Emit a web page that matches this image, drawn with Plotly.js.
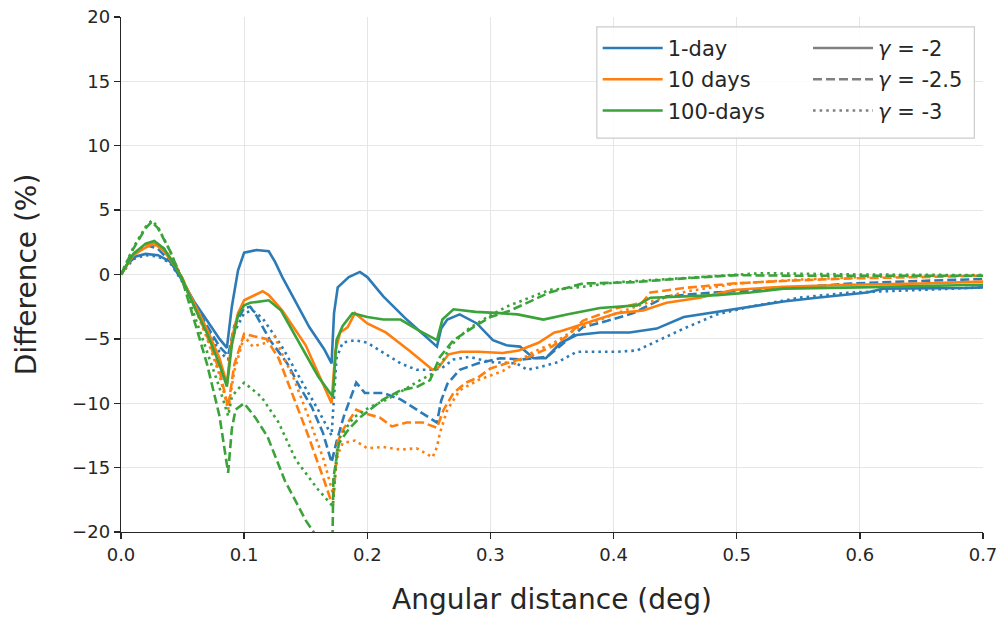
<!DOCTYPE html>
<html>
<head>
<meta charset="utf-8">
<script src="https://cdn.plot.ly/plotly-3.0.1.min.js"></script>
<style>html,body{margin:0;padding:0;background:#fff;}#chart{width:1003px;height:619px;}</style>
</head>
<body>
<div id="chart"></div>
<script>
// ---- data ----
const seriesNames = ["1-day", "10 days", "100-days"];
const gammaLabels = ["<i>γ</i> = -2", "<i>γ</i> = -2.5", "<i>γ</i> = -3"];

// 1-day
const x_1day_g2 = [0,0.005,0.012,0.02,0.03,0.04,0.05,0.06,0.07,0.08,0.086,0.09,0.095,0.1,0.11,0.12,0.125,0.131,0.14,0.153,0.165,0.171,0.173,0.176,0.185,0.194,0.2,0.213,0.232,0.245,0.2566,0.26,0.265,0.275,0.289,0.302,0.313,0.324,0.335,0.345,0.357,0.37,0.389,0.413,0.435,0.457,0.484,0.511,0.538,0.565,0.606,0.619,0.65,0.686,0.7];
const y_1day_g2 = [0,0.8,1.4,1.6,1.5,1.0,-0.5,-2.2,-3.6,-5.0,-5.7,-2.5,0.3,1.7,1.9,1.8,1.0,-0.2,-1.8,-4.1,-5.8,-6.9,-3.0,-1.0,-0.2,0.2,-0.2,-1.7,-3.5,-4.6,-5.6,-4.2,-3.5,-3.1,-3.8,-5.1,-5.5,-5.6,-6.5,-6.5,-5.3,-4.7,-4.5,-4.5,-4.2,-3.3,-2.9,-2.5,-2.1,-1.8,-1.4,-1.1,-1.1,-1.05,-1.0];

const x_1day_g25 = [0,0.01,0.02,0.03,0.04,0.05,0.06,0.07,0.08,0.087,0.092,0.1,0.105,0.11,0.121,0.135,0.145,0.155,0.164,0.171,0.175,0.181,0.191,0.198,0.213,0.227,0.24,0.2566,0.26,0.265,0.275,0.29,0.308,0.325,0.346,0.357,0.375,0.395,0.416,0.443,0.48,0.52,0.55,0.592,0.65,0.7];
const y_1day_g25 = [0,1.5,2.3,2.0,1.0,-0.5,-2.4,-4.0,-5.6,-6.3,-4.0,-2.6,-2.5,-3.2,-5.1,-6.9,-8.7,-10.3,-12.3,-14.6,-13.0,-11.0,-8.4,-9.2,-9.2,-9.7,-10.5,-11.5,-9.8,-8.5,-7.4,-6.9,-6.5,-6.6,-6.4,-5.5,-4.1,-3.6,-3.0,-1.7,-1.4,-1.2,-1.0,-0.7,-0.5,-0.35];

const x_1day_g3 = [0,0.01,0.02,0.03,0.04,0.05,0.06,0.07,0.08,0.087,0.092,0.1,0.107,0.115,0.13,0.145,0.16,0.171,0.175,0.18,0.19,0.2,0.227,0.24,0.253,0.26,0.27,0.283,0.3,0.321,0.33,0.34,0.355,0.37,0.403,0.419,0.435,0.457,0.484,0.511,0.551,0.592,0.65,0.7];
const y_1day_g3 = [0,1.2,1.5,1.4,0.9,-0.6,-2.5,-4.2,-6.0,-6.6,-4.5,-3.0,-2.8,-3.4,-5.5,-8.0,-10.5,-12.5,-6.5,-5.3,-5.1,-5.3,-6.9,-7.4,-7.4,-7.3,-6.6,-6.4,-6.8,-6.9,-7.4,-7.2,-6.8,-6.0,-6.0,-5.9,-5.2,-4.2,-3.1,-2.5,-1.8,-1.4,-1.2,-1.0];

// 10 days
const x_10day_g2 = [0,0.01,0.02,0.027,0.035,0.045,0.05,0.06,0.07,0.08,0.086,0.09,0.095,0.1,0.11,0.115,0.12,0.131,0.15,0.165,0.171,0.174,0.178,0.184,0.19,0.2,0.215,0.234,0.253,0.258,0.266,0.276,0.29,0.31,0.323,0.339,0.352,0.357,0.376,0.403,0.424,0.443,0.47,0.497,0.538,0.592,0.65,0.7];
const y_10day_g2 = [0,1.5,2.1,2.4,1.8,0.5,-0.4,-2.4,-4.3,-6.5,-8.5,-5.0,-3.0,-2.0,-1.5,-1.3,-1.6,-2.8,-5.5,-8.8,-10.0,-6.0,-4.5,-4.1,-3.0,-3.8,-4.5,-5.9,-7.4,-7.2,-6.2,-6.0,-6.0,-6.1,-5.9,-5.3,-4.5,-4.4,-3.8,-3.0,-2.8,-2.2,-1.8,-1.2,-0.95,-0.8,-0.7,-0.55];

const x_10day_g25 = [0,0.01,0.02,0.027,0.035,0.045,0.05,0.06,0.07,0.08,0.087,0.092,0.1,0.108,0.118,0.128,0.14,0.152,0.165,0.172,0.176,0.18,0.191,0.198,0.21,0.22,0.232,0.245,0.2566,0.262,0.27,0.28,0.29,0.3,0.313,0.331,0.35,0.362,0.375,0.403,0.423,0.43,0.457,0.497,0.538,0.592,0.65,0.7];
const y_10day_g25 = [0,1.6,2.3,2.5,2.0,0.6,-0.3,-2.6,-4.8,-7.5,-10.3,-7.0,-4.6,-4.8,-5.0,-6.5,-9.5,-12.5,-16.0,-18.0,-13.0,-12.1,-10.5,-10.8,-11.1,-11.8,-11.5,-11.5,-11.9,-10.5,-9.2,-8.4,-8.0,-7.3,-6.9,-6.4,-5.6,-4.8,-3.6,-2.6,-2.2,-1.4,-1.05,-0.7,-0.5,-0.3,-0.2,-0.1];

const x_10day_g3 = [0,0.01,0.02,0.027,0.035,0.045,0.05,0.06,0.07,0.08,0.087,0.092,0.1,0.107,0.118,0.125,0.13,0.14,0.152,0.165,0.172,0.176,0.18,0.19,0.2,0.213,0.227,0.24,0.253,0.2566,0.259,0.265,0.275,0.29,0.31,0.335,0.35,0.37,0.403,0.43,0.46,0.5,0.55,0.6,0.7];
const y_10day_g3 = [0,1.5,2.2,2.3,1.9,0.5,-0.4,-2.6,-5.0,-7.8,-10.5,-7.5,-4.8,-5.6,-5.3,-4.8,-6.0,-8.0,-11.0,-14.5,-17.0,-14.0,-13.1,-12.9,-13.5,-13.4,-13.6,-13.5,-14.2,-13.4,-12.3,-10.5,-9.0,-8.2,-7.5,-6.0,-5.4,-4.2,-3.0,-2.1,-1.3,-0.7,-0.4,-0.2,-0.05];

// 100 days
const x_100day_g2 = [0,0.01,0.02,0.027,0.035,0.045,0.05,0.06,0.07,0.08,0.086,0.09,0.095,0.1,0.105,0.12,0.13,0.145,0.16,0.172,0.175,0.18,0.188,0.2,0.213,0.227,0.241,0.2566,0.261,0.27,0.288,0.308,0.322,0.343,0.362,0.389,0.419,0.43,0.484,0.511,0.538,0.6,0.65,0.7];
const y_100day_g2 = [0,1.6,2.4,2.6,2.0,0.5,-0.4,-2.6,-4.6,-7.0,-8.7,-5.5,-3.2,-2.4,-2.2,-2.0,-2.8,-5.3,-7.9,-9.5,-5.1,-4.0,-3.0,-3.3,-3.5,-3.5,-4.3,-5.1,-3.5,-2.7,-2.9,-3.0,-3.1,-3.5,-3.1,-2.6,-2.4,-1.8,-1.6,-1.4,-1.1,-1.0,-0.9,-0.8];

const x_100day_g25 = [0,0.01,0.02,0.025,0.03,0.04,0.05,0.06,0.07,0.08,0.087,0.09,0.093,0.1,0.109,0.119,0.133,0.144,0.15,0.16,0.168,0.1715,0.1725,0.177,0.185,0.194,0.213,0.227,0.241,0.251,0.259,0.27,0.286,0.3,0.316,0.348,0.375,0.416,0.457,0.5,0.55,0.6,0.7];
const y_100day_g25 = [0,2.0,3.6,4.1,3.6,1.8,-0.5,-3.8,-7.0,-11.0,-15.4,-12.0,-10.5,-10.0,-11.1,-12.6,-16.0,-18.0,-19.1,-20.5,-21.5,-22.0,-15.8,-13.1,-12.0,-11.1,-9.7,-9.0,-8.7,-8.2,-6.4,-5.1,-4.1,-3.3,-2.8,-1.4,-0.7,-0.6,-0.3,-0.05,-0.1,-0.1,-0.1];

const x_100day_g3 = [0,0.01,0.02,0.025,0.03,0.04,0.05,0.06,0.07,0.08,0.087,0.09,0.094,0.1,0.114,0.128,0.142,0.16,0.172,0.175,0.178,0.189,0.202,0.216,0.229,0.243,0.253,0.262,0.267,0.281,0.294,0.313,0.348,0.375,0.403,0.45,0.5,0.52,0.6,0.7];
const y_100day_g3 = [0,2.1,3.7,4.2,3.7,1.8,-0.5,-3.3,-6.0,-8.8,-11.0,-9.5,-9.0,-8.4,-9.5,-11.5,-14.4,-16.7,-18.0,-14.0,-12.6,-11.1,-10.3,-9.7,-9.0,-8.2,-7.7,-6.6,-5.6,-4.3,-3.5,-2.5,-1.2,-0.95,-0.6,-0.3,0.0,0.1,0.0,-0.05];

const xTickVals = [0,0.1,0.2,0.3,0.4,0.5,0.6,0.7];
const xTickText = ["0.0","0.1","0.2","0.3","0.4","0.5","0.6","0.7"];
const yTickVals = [-20,-15,-10,-5,0,5,10,15,20];

// ---- styles ----
const colors = ["#2c7bb6", "#ff7f0e", "#3aa33a"];
const dashes = ["solid", "9px,4px", "2.6px,4px"];
const LW = 2.6;

const groups = [
  [[x_1day_g2,y_1day_g2],[x_1day_g25,y_1day_g25],[x_1day_g3,y_1day_g3]],
  [[x_10day_g2,y_10day_g2],[x_10day_g25,y_10day_g25],[x_10day_g3,y_10day_g3]],
  [[x_100day_g2,y_100day_g2],[x_100day_g25,y_100day_g25],[x_100day_g3,y_100day_g3]]
];

const traces = [];
groups.forEach((g, ci) => {
  g.forEach((xy, di) => {
    traces.push({
      x: xy[0], y: xy[1], type: "scatter", mode: "lines",
      line: {color: colors[ci], width: LW, dash: dashes[di]},
      name: seriesNames[ci],
      showlegend: di === 0,
      legend: "legend",
      legendgroup: "c" + ci,
      hoverinfo: "skip"
    });
  });
});
gammaLabels.forEach((lab, di) => {
  traces.push({
    x: [null], y: [null], type: "scatter", mode: "lines",
    line: {color: "#808080", width: LW, dash: dashes[di]},
    name: lab, showlegend: true, legend: "legend2", legendgroup: "g" + di
  });
});

const fontFam = "DejaVu Sans, sans-serif";
const layout = {
  width: 1003, height: 619,
  margin: {l: 121, r: 20, t: 17, b: 87, pad: 0},
  paper_bgcolor: "#fff", plot_bgcolor: "#fff",
  font: {family: fontFam, size: 18, color: "#262626"},
  xaxis: {
    range: [0, 0.7], tickvals: xTickVals, ticktext: xTickText,
    showgrid: true, gridcolor: "#e6e6e6", gridwidth: 1.2,
    zeroline: false, showline: true, linecolor: "#262626", linewidth: 1.3,
    ticks: "outside", ticklen: 6, tickwidth: 1.3, tickcolor: "#262626",
    tickfont: {size: 18, family: fontFam, color: "#262626"},
    title: {text: "Angular distance (deg)", font: {size: 28, family: fontFam, color: "#262626"}, standoff: 25}
  },
  yaxis: {
    range: [-20, 20], tickvals: yTickVals,
    showgrid: true, gridcolor: "#e6e6e6", gridwidth: 1.2,
    zeroline: false, showline: true, linecolor: "#262626", linewidth: 1.3,
    ticks: "outside", ticklen: 6, tickwidth: 1.3, tickcolor: "#262626",
    tickfont: {size: 18, family: fontFam, color: "#262626"},
    title: {text: "Difference (%)", font: {size: 28, family: fontFam, color: "#262626"}, standoff: 27}
  },
  shapes: [{
    type: "rect", xref: "paper", yref: "paper",
    x0: 0.552, x1: 0.99, y0: 0.765, y1: 0.981,
    line: {color: "#cccccc", width: 1.2}, fillcolor: "rgba(255,255,255,0.85)", layer: "above"
  }],
  legend: {
    x: 0.553, y: 0.979, xanchor: "left", yanchor: "top",
    bgcolor: "rgba(0,0,0,0)", borderwidth: 0,
    font: {size: 21, family: fontFam, color: "#262626"},
    tracegroupgap: 1, itemwidth: 60
  },
  legend2: {
    x: 0.797, y: 0.979, xanchor: "left", yanchor: "top",
    bgcolor: "rgba(0,0,0,0)", borderwidth: 0,
    font: {size: 21, family: fontFam, color: "#262626"},
    tracegroupgap: 1, itemwidth: 60
  }
};

Plotly.newPlot("chart", traces, layout, {displayModeBar: false, staticPlot: true});
</script>
</body>
</html>
